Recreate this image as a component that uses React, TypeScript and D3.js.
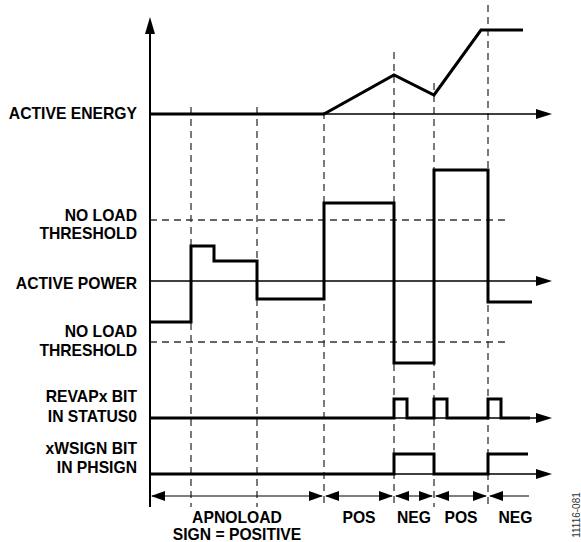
import React from 'react';
import * as d3 from 'd3';

// time events (horizontal units)
const events = [41, 107, 174, 244, 284, 338];
const energyT = [0, 174, 244, 284, 331, 373];
const energyV = [0, 0, 39, 19, 84, 84];
const powerT = [0, 41, 64, 107, 174, 244, 284, 338, 382];
const powerV = [-41, 35, 20, -18, 78, -82, 111, -21, -21];
const threshold = 61;
const revT = [0, 244, 257, 284, 297, 338, 351, 380];
const revV = [0, 1, 0, 1, 0, 1, 0, 0];
const signT = [0, 244, 284, 338, 378];
const signV = [0, 1, 0, 1, 1];
const spans = [
  { from: 0, to: 174, label: ['APNOLOAD', 'SIGN = POSITIVE'], right: true },
  { from: 174, to: 244, label: ['POS'], right: true },
  { from: 244, to: 284, label: ['NEG'], right: true },
  { from: 284, to: 338, label: ['POS'], right: true },
  { from: 338, to: 381, label: ['NEG'], right: false },
];
const leftLabels = [
  { lines: ['ACTIVE ENERGY'], y: [119] },
  { lines: ['NO LOAD', 'THRESHOLD'], y: [221, 239] },
  { lines: ['ACTIVE POWER'], y: [289] },
  { lines: ['NO LOAD', 'THRESHOLD'], y: [337, 356] },
  { lines: ['REVAPx BIT', 'IN STATUS0'], y: [402, 422] },
  { lines: ['xWSIGN BIT', 'IN PHSIGN'], y: [454, 473] },
];

const x = d3.scaleLinear().domain([0, 400]).range([150, 550]);
const yE = d3.scaleLinear().domain([0, 100]).range([114, 14]);
const yP = d3.scaleLinear().domain([-100, 100]).range([381, 181]);
const yR = d3.scaleLinear().domain([0, 1]).range([418, 399]);
const yS = d3.scaleLinear().domain([0, 1]).range([474, 454]);

const zip = (t: number[], v: number[]) => t.map((d, i) => [d, v[i]] as [number, number]);

const FONT = '"Liberation Sans", Arial, sans-serif';
const FS = 15.7;

function Arrow({ x0, y0, dir, len = 16, half = 5 }: { x0: number; y0: number; dir: 'r' | 'l' | 'u'; len?: number; half?: number }) {
  let pts: number[][];
  if (dir === 'r') pts = [[x0, y0], [x0 - len, y0 - half], [x0 - len, y0 + half]];
  else if (dir === 'l') pts = [[x0, y0], [x0 + len, y0 - half], [x0 + len, y0 + half]];
  else pts = [[x0, y0], [x0 - half, y0 + len], [x0 + half, y0 + len]];
  return <polygon points={pts.map(p => p.join(',')).join(' ')} fill="#000" />;
}

export default function App() {
  const lin = d3.line<[number, number]>();
  const energyPath = d3.line<[number, number]>().x(d => x(d[0])).y(d => yE(d[1]))(zip(energyT, energyV)) as string;
  const powerPath = d3.line<[number, number]>().x(d => x(d[0])).y(d => yP(d[1])).curve(d3.curveStepAfter)(zip(powerT, powerV)) as string;
  const revPath = d3.line<[number, number]>().x(d => x(d[0])).y(d => yR(d[1])).curve(d3.curveStepAfter)(zip(revT, revV)) as string;
  const signPath = d3.line<[number, number]>().x(d => x(d[0])).y(d => yS(d[1])).curve(d3.curveStepAfter)(zip(signT, signV)) as string;
  const dashTop: Record<number, number> = { 41: 107, 107: 107, 174: 112, 244: 52, 284: 83, 338: 5 };
  const ya = 496;

  return (
    <svg width={581} height={542} style={{ position: 'absolute', left: 0, top: 0, background: '#fff' }}>
      {/* dashed event lines */}
      {events.map(t => (
        <line key={t} x1={x(t)} x2={x(t)} y1={dashTop[t]} y2={507} stroke="#333" strokeWidth={1.3} strokeDasharray="7,5" />
      ))}
      {/* thresholds */}
      {[threshold, -threshold].map(v => (
        <line key={v} x1={x(0)} x2={507} y1={yP(v)} y2={yP(v)} stroke="#333" strokeWidth={1.3} strokeDasharray="7,5" />
      ))}
      {/* vertical axis */}
      <line x1={x(0)} x2={x(0)} y1={30} y2={507} stroke="#000" strokeWidth={2} />
      <Arrow x0={x(0)} y0={17} dir="u" len={17} half={5} />
      {/* horizontal axes */}
      {[yE(0), yP(0), yR(0), yS(0)].map((y, i) => (
        <g key={i}>
          <line x1={x(0)} x2={540} y1={y} y2={y} stroke="#000" strokeWidth={1.5} />
          <Arrow x0={552} y0={y} dir="r" len={16} half={5} />
        </g>
      ))}
      {/* waveforms */}
      <path d={energyPath} fill="none" stroke="#000" strokeWidth={3} strokeLinejoin="miter" />
      <path d={powerPath} fill="none" stroke="#000" strokeWidth={3} />
      <path d={revPath} fill="none" stroke="#000" strokeWidth={3} />
      <path d={signPath} fill="none" stroke="#000" strokeWidth={3} />
      {/* bottom spans */}
      {spans.map((s, i) => {
        const x1 = x(s.from), x2 = x(s.to);
        return (
          <g key={i}>
            <path d={lin([[x1 + 2, ya], [x2 - 2, ya]]) as string} stroke="#000" strokeWidth={1.2} />
            <Arrow x0={x1 + 1} y0={ya} dir="l" len={14} half={5} />
            {s.right && <Arrow x0={x2 - 1} y0={ya} dir="r" len={14} half={5} />}
            {s.label.map((l, j) => (
              <text key={j} x={i === 0 ? 237 : (x1 + x2) / 2 + (i === 4 ? 6 : 0)} y={523 + j * 17} textAnchor="middle"
                fontFamily={FONT} fontWeight="bold" fontSize={FS}>{l}</text>
            ))}
          </g>
        );
      })}
      {/* left labels */}
      {leftLabels.map((g, i) => g.lines.map((l, j) => (
        <text key={i + '-' + j} x={137} y={g.y[j]} textAnchor="end" fontFamily={FONT} fontWeight="bold" fontSize={FS}>{l}</text>
      )))}
      <text transform="translate(580,515) rotate(-90)" textAnchor="middle" fontFamily={FONT} fontSize={10} fill="#333">11116-081</text>
    </svg>
  );
}
